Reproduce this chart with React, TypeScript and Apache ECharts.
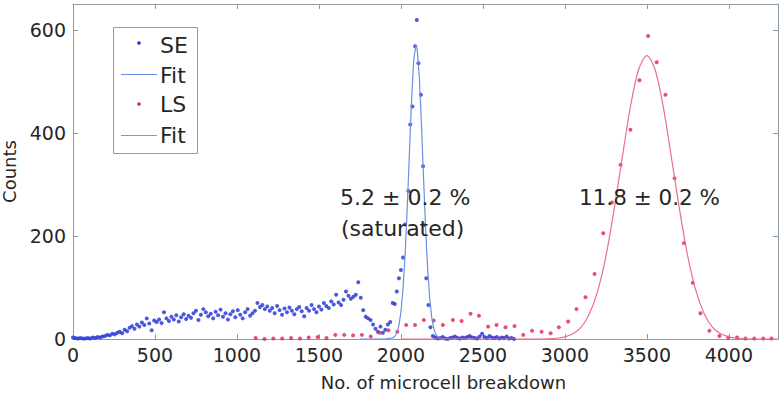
import React, { useEffect, useRef } from "react";
import * as echarts from "echarts";

// SE counts, bins every 15 units starting at 0 (up to 1935)
const SE_STEP = 15;
const seLowCounts = [
  3, 2, 1, 2, 1, 1, 2, 1, 3, 2, 4, 3, 5, 6, 8, 7, 10, 9, 12, 14,
  11, 18, 15, 22, 25, 20, 28, 24, 32, 27, 40, 30, 17, 36, 33, 38, 31, 52, 40, 35,
  43, 38, 46, 34, 42, 48, 39, 45, 41, 50, 55, 37, 47, 58, 52, 44, 49, 40, 53, 46,
  57, 43, 50, 38, 48, 54, 42, 56, 47, 40, 52, 58, 45, 50, 55, 70, 62, 66, 58, 63,
  55, 60, 50, 64, 56, 47, 59, 52, 61, 55, 48, 58, 62, 54, 44, 60, 55, 66, 58, 52,
  63, 57, 70, 64, 60, 73, 67, 86, 71, 66, 76, 92, 84, 78, 82, 86, 110, 80, 56, 43,
  40, 37, 28, 20, 14, 24, 12, 18, 28, 33,
];
// SE peak region (x, count)
const sePeak = [
  [1950, 70], [1963, 68], [1975, 92], [1988, 118], [2000, 134], [2013, 158],
  [2025, 222], [2045, 287], [2057, 416], [2070, 451], [2087, 568], [2097, 619],
  [2107, 535], [2122, 474], [2135, 335], [2142, 221], [2155, 118], [2168, 66],
  [2180, 23], [2195, 6],
];
// SE tail, bins every 15 units starting at 2210
const SE_TAIL_START = 2210;
const seTailCounts = [
  3, 1, 2, 4, 1, 0, 2, 3, 5, 2, 1, 3, 2, 4, 6, 3, 2, 1, 5, 10,
  4, 2, 6, 3, 2, 4, 1, 3, 2, 5, 1, 2, 0,
];
// SE fit curve (x, value)
const seFit = [
  [1750, 0], [1900, 0], [1950, 2], [1962.5, 5], [1975, 12], [1987.5, 26], [2000, 52],
  [2012.5, 95], [2025, 160], [2037.5, 246], [2050, 346], [2062.5, 445], [2075, 525],
  [2080, 547], [2092, 570], [2100, 560], [2112.5, 506], [2125, 419], [2137.5, 317],
  [2150, 220], [2162.5, 139], [2175, 81], [2187.5, 43], [2200, 21], [2212.5, 9],
  [2225, 4], [2250, 0.5], [2450, 0],
];
// LS data (x, count)
const lsData = [
  [1114, 2], [1168, 0], [1222, 1], [1276, 1], [1330, 2], [1384, 1], [1438, 3],
  [1492, 4], [1546, 2], [1600, 8], [1654, 8], [1708, 7], [1762, 8], [1816, 5],
  [1870, 12], [1924, 17], [1978, 14], [2032, 27], [2086, 27], [2140, 37],
  [2200, 36], [2256, 27], [2317, 37], [2370, 35], [2425, 49], [2476, 45],
  [2532, 24], [2583, 27], [2638, 23], [2693, 25], [2746, 8], [2800, 16],
  [2858, 14], [2913, 11], [2963, 23], [3020, 34], [3071, 58], [3126, 81],
  [3181, 126], [3234, 205], [3287, 265], [3340, 338], [3400, 406], [3455, 502],
  [3508, 588], [3560, 537], [3614, 474], [3669, 312], [3726, 186], [3780, 109],
  [3827, 50], [3882, 16], [3943, 6], [3996, 3], [4050, 3], [4101, 1], [4155, 1],
  [4210, 1], [4260, 1],
];
// LS fit curve (x, value)
const lsFit = [
  [2000, 0], [2700, 0], [2800, 0], [2900, 0.5], [2950, 1.4], [3000, 4], [3050, 10],
  [3100, 23], [3150, 49], [3200, 93], [3250, 160], [3300, 250], [3350, 352],
  [3400, 451], [3450, 523], [3500, 550], [3550, 523], [3600, 451], [3650, 352],
  [3700, 250], [3750, 160], [3800, 93], [3850, 49], [3900, 23], [3950, 10],
  [4000, 4], [4050, 1.4], [4100, 0.5], [4200, 0], [4300, 0],
];
const xTicks = { min: 0, max: 4300, interval: 500 };
const yTicks = { min: 0, max: 650, interval: 200 };

const AXIS = "#8d9aa7";
const TXT = "#262626";
const FONT = "DejaVu Sans";
const BLUE_DOT = "#1f2fd6";
const BLUE_LINE = "#6b8fe6";
const RED_DOT = "#e3214f";
const RED_LINE = "#ea6f8c";

export default function App() {
  const ref = useRef<HTMLDivElement>(null);
  useEffect(() => {
    document.body.style.margin = "0";
    const chart = echarts.init(ref.current!, null, { renderer: "svg" });
    const seData = [
      ...seLowCounts.map((c, i) => [i * SE_STEP, c]),
      ...sePeak,
      ...seTailCounts.map((c, i) => [SE_TAIL_START + i * SE_STEP, c]),
    ];
    const axisCommon = {
      type: "value" as const,
      splitLine: { show: false },
      axisLine: { show: true, onZero: false, lineStyle: { color: AXIS, width: 1 } },
      axisTick: { show: true, inside: true, length: 5, lineStyle: { color: AXIS } },
    };
    const plain = (v: number) => String(v);
    chart.setOption({
      animation: false,
      backgroundColor: "#fff",
      grid: { left: 73, right: 2, top: 4, bottom: 61, containLabel: false, outerBoundsMode: "none" },
      xAxis: [
        {
          ...axisCommon,
          ...xTicks,
          position: "bottom",
          axisLabel: { color: TXT, fontSize: 19, fontFamily: FONT, margin: 6, showMaxLabel: false, formatter: plain },
          name: "No. of microcell breakdown",
          nameLocation: "middle",
          nameGap: 34,
          nameTextStyle: { color: TXT, fontSize: 18, fontFamily: FONT, padding: [0, 0, 0, 36] },
        },
        {
          ...axisCommon,
          ...xTicks,
          position: "top",
          axisLabel: { show: false },
        },
      ],
      yAxis: [
        {
          ...axisCommon,
          ...yTicks,
          position: "left",
          axisLabel: { color: TXT, fontSize: 19, fontFamily: FONT, margin: 7, showMaxLabel: false, formatter: plain },
          name: "Counts",
          nameLocation: "middle",
          nameGap: 48,
          nameTextStyle: { color: TXT, fontSize: 18, fontFamily: FONT },
        },
        {
          ...axisCommon,
          ...yTicks,
          position: "right",
          axisLabel: { show: false },
        },
      ],
      series: [
        {
          name: "SE",
          type: "scatter",
          data: seData,
          symbol: "circle",
          symbolSize: 4,
          itemStyle: { color: BLUE_DOT },
        },
        {
          name: "Fit SE",
          type: "line",
          data: seFit,
          showSymbol: false,
          lineStyle: { color: BLUE_LINE, width: 1.2 },
        },
        {
          name: "LS",
          type: "scatter",
          data: lsData,
          symbol: "circle",
          symbolSize: 4,
          itemStyle: { color: RED_DOT },
        },
        {
          name: "Fit LS",
          type: "line",
          data: lsFit,
          showSymbol: false,
          smooth: 0.3,
          lineStyle: { color: RED_LINE, width: 1.2 },
        },
      ],
      graphic: [
        {
          type: "rect",
          shape: { x: 113.5, y: 27.5, width: 84, height: 126 },
          style: { fill: "#fff", stroke: "#8d9aa7", lineWidth: 1 },
          z: 100,
        },
        { type: "circle", shape: { cx: 139, cy: 43, r: 1.8 }, style: { fill: BLUE_DOT }, z: 101 },
        { type: "line", shape: { x1: 121, y1: 74.5, x2: 157, y2: 74.5 }, style: { stroke: BLUE_LINE, lineWidth: 1.2 }, z: 101 },
        { type: "circle", shape: { cx: 139, cy: 104, r: 1.8 }, style: { fill: RED_DOT }, z: 101 },
        { type: "line", shape: { x1: 121, y1: 135.5, x2: 157, y2: 135.5 }, style: { stroke: RED_LINE, lineWidth: 1.2 }, z: 101 },
        ...[
          ["SE", 45],
          ["Fit", 75],
          ["LS", 104],
          ["Fit", 135],
        ].map(([t, y]) => ({
          type: "text",
          x: 160,
          y: y as number,
          z: 101,
          style: { text: t as string, fill: TXT, fontSize: 22, fontFamily: FONT, verticalAlign: "middle", align: "left" },
        })),
        {
          type: "text",
          x: 340,
          y: 197,
          z: 101,
          style: { text: "5.2 ± 0.2 %", fill: TXT, fontSize: 22, fontFamily: FONT, verticalAlign: "middle", align: "left" },
        },
        {
          type: "text",
          x: 341,
          y: 228,
          z: 101,
          style: { text: "(saturated)", fill: TXT, fontSize: 22, fontFamily: FONT, verticalAlign: "middle", align: "left" },
        },
        {
          type: "text",
          x: 579,
          y: 197,
          z: 101,
          style: { text: "11.8 ± 0.2 %", fill: TXT, fontSize: 21.5, fontFamily: FONT, verticalAlign: "middle", align: "left" },
        },
      ],
    });
    return () => chart.dispose();
  }, []);
  return <div ref={ref} style={{ position: "absolute", left: 0, top: 0, width: 780, height: 400 }} />;
}
